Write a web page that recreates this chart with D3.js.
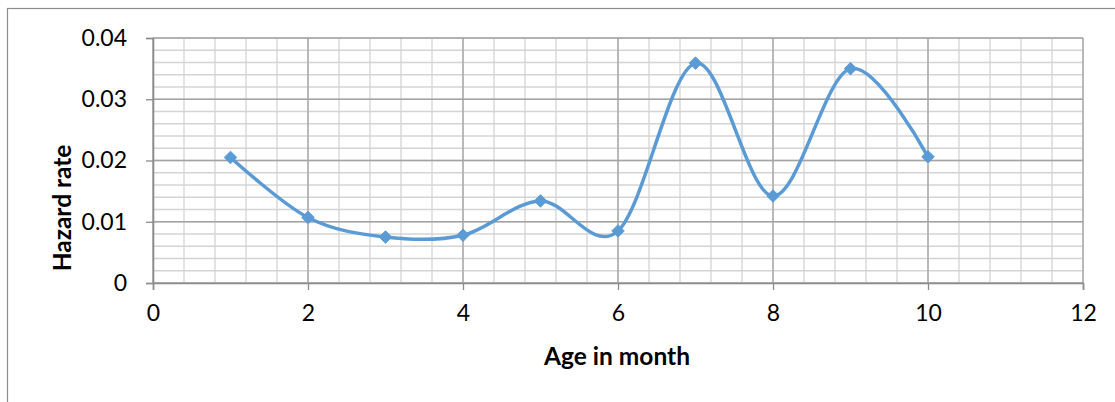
<!DOCTYPE html>
<html>
<head>
<meta charset="utf-8">
<script src="https://cdn.jsdelivr.net/npm/d3@7"></script>
<style>
  html, body { margin: 0; padding: 0; background: #fff; }
  svg { display: block; }
  text { font-family: Lato, "Liberation Sans", sans-serif; fill: #000; }
</style>
</head>
<body>
<svg id="chart" width="1115" height="402"></svg>
<script>
// Monthly hazard rate by age
const ages = [1, 2, 3, 4, 5, 6, 7, 8, 9, 10];
const hazardRate = [0.0205, 0.0107, 0.0075, 0.0078, 0.0134, 0.0085, 0.0359, 0.0142, 0.0350, 0.0206];

const xTicks = [0, 2, 4, 6, 8, 10, 12];
const yTicks = [0, 0.01, 0.02, 0.03, 0.04];
const xMinorStep = 0.4;
const yMinorStep = 0.002;

const xTitle = "Age in month";
const yTitle = "Hazard rate";

const svg = d3.select("#chart");
const W = 1115, H = 402;
const plot = { left: 153, top: 38, right: 1083, bottom: 283 };

// outer chart frame
svg.append("rect")
  .attr("x", 7.5).attr("y", 8.5)
  .attr("width", W + 20).attr("height", H + 20)
  .attr("fill", "#fff").attr("stroke", "#8c8c8c").attr("stroke-width", 1.2);

const x = d3.scaleLinear().domain([0, 12]).range([plot.left, plot.right]);
const y = d3.scaleLinear().domain([0, 0.04]).range([plot.bottom, plot.top]);

const minorX = d3.range(0, 12 + 1e-9, xMinorStep).map(v => +v.toFixed(2));
const minorY = d3.range(0, 0.04 + 1e-9, yMinorStep).map(v => +v.toFixed(4));

const grid = svg.append("g");
// minor gridlines
grid.selectAll(".mx").data(minorX).join("line")
  .attr("x1", d => x(d)).attr("x2", d => x(d))
  .attr("y1", plot.top).attr("y2", plot.bottom)
  .attr("stroke", "#d4d4d4").attr("stroke-width", 1.3);
grid.selectAll(".my").data(minorY).join("line")
  .attr("x1", plot.left).attr("x2", plot.right)
  .attr("y1", d => y(d)).attr("y2", d => y(d))
  .attr("stroke", "#d4d4d4").attr("stroke-width", 1.3);
// major gridlines
grid.selectAll(".Mx").data(xTicks).join("line")
  .attr("x1", d => x(d)).attr("x2", d => x(d))
  .attr("y1", plot.top).attr("y2", plot.bottom)
  .attr("stroke", "#a3a3a3").attr("stroke-width", 1.3);
grid.selectAll(".My").data(yTicks).join("line")
  .attr("x1", plot.left).attr("x2", plot.right)
  .attr("y1", d => y(d)).attr("y2", d => y(d))
  .attr("stroke", "#a3a3a3").attr("stroke-width", 1.3);

// axes
const xAxis = svg.append("g")
  .attr("transform", `translate(0,${plot.bottom})`)
  .call(d3.axisBottom(x).tickValues(xTicks).tickSize(7).tickPadding(15).tickFormat(d3.format("d")));
const yAxis = svg.append("g")
  .attr("transform", `translate(${plot.left},0)`)
  .call(d3.axisLeft(y).tickValues(yTicks).tickSize(7).tickPadding(19)
    .tickFormat(d => d === 0 ? "0" : d3.format(".2f")(d)));

[xAxis, yAxis].forEach(g => {
  g.select(".domain").attr("stroke", "#8c8c8c").attr("stroke-width", 1.6);
  g.selectAll(".tick line").attr("stroke", "#8c8c8c").attr("stroke-width", 1.3);
  g.selectAll(".tick text")
    .attr("font-family", "Lato, 'Liberation Sans', sans-serif")
    .attr("font-size", 23).attr("fill", "#000");
});

// smoothed series line
const line = d3.line()
  .x((d, i) => x(ages[i]))
  .y(d => y(d))
  .curve(d3.curveCardinal.tension(0));

svg.append("path")
  .datum(hazardRate)
  .attr("d", line)
  .attr("fill", "none")
  .attr("stroke", "#5b9bd5")
  .attr("stroke-width", 3.5)
  .attr("stroke-linejoin", "round");

// diamond markers
const diamond = d3.symbol().type(d3.symbolDiamond2).size(100);
svg.selectAll(".pt").data(hazardRate).join("path")
  .attr("transform", (d, i) => `translate(${x(ages[i])},${y(d)})`)
  .attr("d", diamond)
  .attr("fill", "#5b9bd5")
  .attr("stroke", "#5b9bd5").attr("stroke-width", 1);

// axis titles
svg.append("text")
  .attr("x", 617).attr("y", 365)
  .attr("text-anchor", "middle")
  .attr("font-weight", "bold").attr("font-size", 24.5)
  .text(xTitle);

svg.append("text")
  .attr("transform", "translate(71,208) rotate(-90)")
  .attr("text-anchor", "middle")
  .attr("font-weight", "bold").attr("font-size", 24.5)
  .text(yTitle);
</script>
</body>
</html>
